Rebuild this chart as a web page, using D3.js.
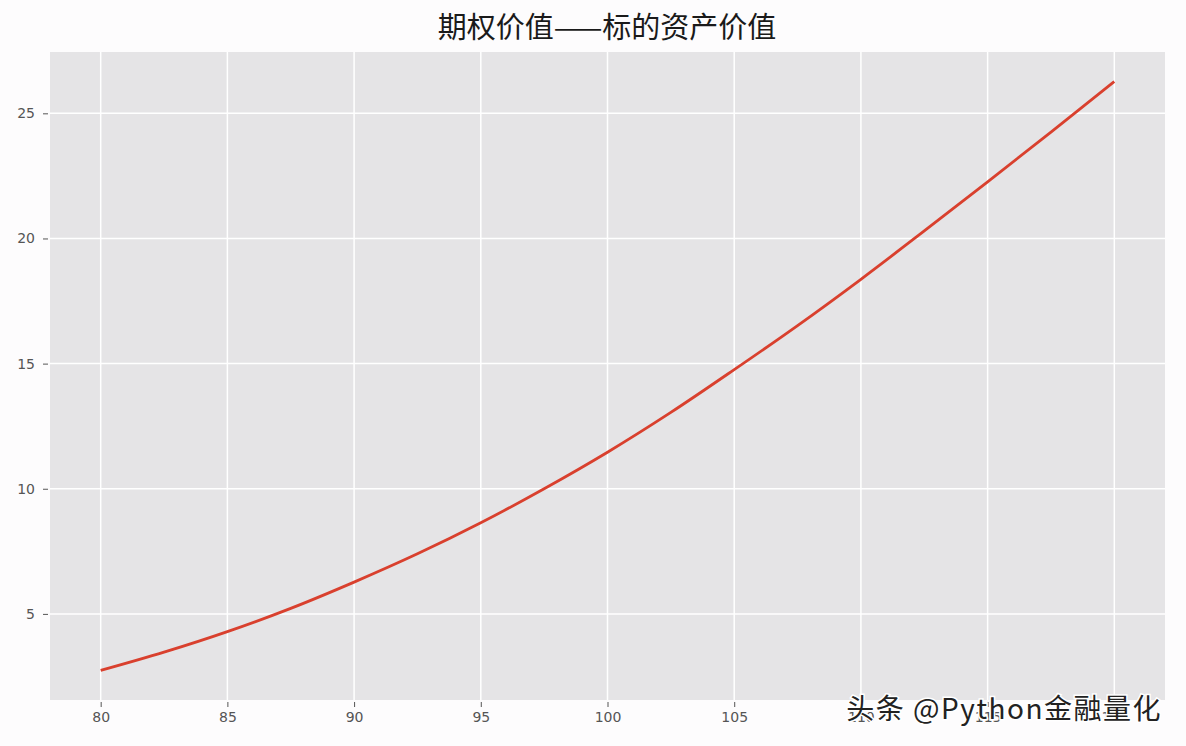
<!DOCTYPE html>
<html>
<head>
<meta charset="utf-8">
<script src="https://cdn.jsdelivr.net/npm/d3@7/dist/d3.min.js"></script>
<style>
  body { margin: 0; background: #fdfcfd; }
  svg { display: block; }
</style>
</head>
<body>
<svg id="chart" width="1186" height="746"></svg>
<script>
// underlying price and option value
const prices = [80, 82.5, 85, 87.5, 90, 92.5, 95, 97.5, 100, 102.5, 105, 107.5, 110, 112.5, 115, 117.5, 120];
const values = [2.74, 3.47, 4.29, 5.22, 6.27, 7.40, 8.64, 10.0, 11.46, 13.05, 14.76, 16.52, 18.37, 20.30, 22.26, 24.25, 26.27];
const xTicks = [80, 85, 90, 95, 100, 105, 110, 115, 120];
const yTicks = [5, 10, 15, 20, 25];
const title = "期权价值——标的资产价值";
const watermark = "头条 @Python金融量化";

const width = 1186, height = 746;
const margin = {top: 52, right: 21, bottom: 46, left: 50};

const svg = d3.select("#chart");
const w = width - margin.left - margin.right;
const h = height - margin.top - margin.bottom;

const x = d3.scaleLinear().domain([78, 122]).range([0, w]);
const y = d3.scaleLinear().domain([1.56, 27.45]).range([h, 0]);

const g = svg.append("g").attr("transform", `translate(${margin.left},${margin.top})`);

g.append("rect")
    .attr("width", w)
    .attr("height", h)
    .attr("fill", "#e5e4e6");

// grid
g.append("g")
    .selectAll("line")
    .data(xTicks)
    .join("line")
    .attr("x1", d => x(d)).attr("x2", d => x(d))
    .attr("y1", 0).attr("y2", h)
    .attr("stroke", "#fff").attr("stroke-width", 1.5);

g.append("g")
    .selectAll("line")
    .data(yTicks)
    .join("line")
    .attr("x1", 0).attr("x2", w)
    .attr("y1", d => y(d)).attr("y2", d => y(d))
    .attr("stroke", "#fff").attr("stroke-width", 1.5);

// axes
const xAxis = g.append("g")
    .attr("transform", `translate(0,${h})`)
    .call(d3.axisBottom(x).tickValues(xTicks).tickSize(5).tickPadding(7));
const yAxis = g.append("g")
    .call(d3.axisLeft(y).tickValues(yTicks).tickSize(5).tickPadding(10));

[xAxis, yAxis].forEach(a => {
    a.select(".domain").remove();
    a.selectAll(".tick line").attr("stroke", "#555").attr("stroke-width", 1).attr("transform", a === xAxis ? "translate(0,2)" : "translate(-2,0)");
    a.selectAll(".tick text")
        .attr("fill", "#555")
        .style("font-family", "'DejaVu Sans', sans-serif")
        .style("font-size", "14px");
});

// curve
const line = d3.line()
    .x((d, i) => x(prices[i]))
    .y(d => y(d))
    .curve(d3.curveMonotoneX);

g.append("path")
    .datum(values)
    .attr("d", line)
    .attr("fill", "none")
    .attr("stroke", "#d9402e")
    .attr("stroke-width", 2.8);

// title
svg.append("text")
    .attr("x", 607)
    .attr("y", 38)
    .attr("text-anchor", "middle")
    .style("font-family", "'Noto Sans CJK SC', sans-serif")
    .style("font-size", "29px")
    .attr("fill", "#1a1a1a")
    .text(title);

// watermark
svg.append("text")
    .attr("x", 1162)
    .attr("y", 719)
    .attr("text-anchor", "end")
    .style("font-family", "'Noto Sans CJK SC', sans-serif")
    .style("font-size", "28px")
    .style("letter-spacing", "1.5px")
    .attr("fill", "#222")
    .attr("stroke", "#fff")
    .attr("stroke-width", 3)
    .attr("paint-order", "stroke")
    .text(watermark);
</script>
</body>
</html>
